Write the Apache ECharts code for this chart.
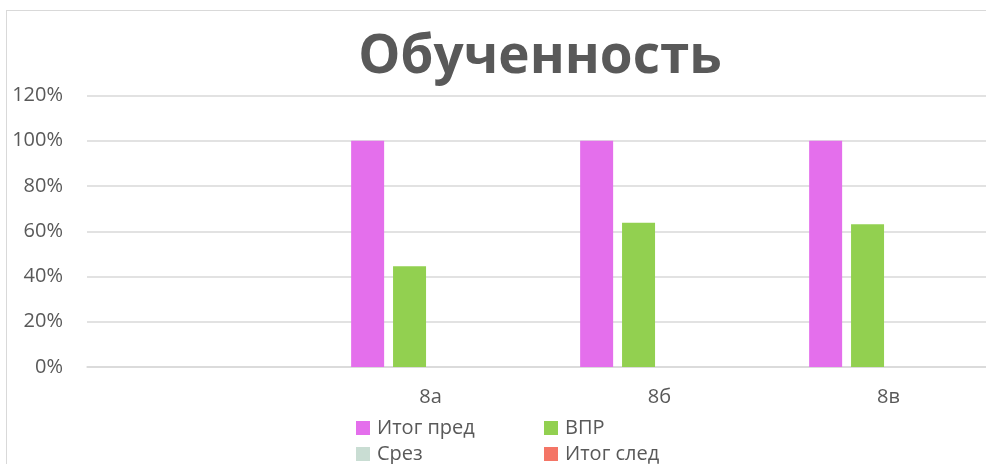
<!DOCTYPE html>
<html>
<head>
<meta charset="utf-8">
<script src="https://cdn.jsdelivr.net/npm/echarts@6/dist/echarts.min.js"></script>
<style>
  html, body { margin: 0; padding: 0; background: #fff; overflow: hidden; }
  #frame { position: absolute; left: 6px; top: 10px; width: 1200px; height: 800px;
           border-left: 1.5px solid #d9d9d9; border-top: 1.5px solid #d9d9d9; }
  #chart { position: absolute; left: 0; top: 0; width: 986px; height: 464px; }
</style>
</head>
<body>
<div id="frame"></div>
<div id="chart"></div>
<script>
// Data
const categories = ['', '8а', '8б', '8в'];
const itogPred = [null, 1.00, 1.00, 1.00];
const vpr = [null, 0.445, 0.638, 0.631];
const srez = [null, null, null, null];
const itogSled = [null, null, null, null];
const seriesNames = ['Итог пред', 'ВПР', 'Срез', 'Итог след'];
const seriesColors = ['#e46fec', '#92d050', '#c9ddd3', '#f47566'];

const FONT = '"Open Sans", sans-serif';
const TEXT = '#595959';
const LINE = '#d9d9d9';

// Legend, one item each so columns line up
function legendItem(name, left, top) {
    return {
        data: [name],
        left: left,
        top: top,
        padding: 0,
        itemWidth: 14,
        itemHeight: 14,
        icon: 'rect',
        selectedMode: false,
        textStyle: { fontFamily: FONT, fontSize: 20, color: TEXT, padding: [0, 0, 0, 2] }
    };
}

const chart = echarts.init(document.getElementById('chart'));
const values = [itogPred, vpr, srez, itogSled];

chart.setOption({
    animation: false,
    backgroundColor: 'transparent',
    color: seriesColors,
    title: {
        text: 'Обученность',
        left: 535,
        top: 26,
        textAlign: 'center',
        textStyle: { fontFamily: FONT, fontSize: 53, fontWeight: 'bold', color: TEXT }
    },
    legend: [
        legendItem(seriesNames[0], 356, 418),
        legendItem(seriesNames[1], 544, 418),
        legendItem(seriesNames[2], 356, 444),
        legendItem(seriesNames[3], 544, 444)
    ],
    // plot runs past the right edge of the picture, as in the cropped original
    grid: { left: 87, width: 916, top: 95.5, bottom: 97, outerBoundsMode: 'none', containLabel: false },
    xAxis: {
        type: 'category',
        data: categories,
        axisLine: { lineStyle: { color: LINE, width: 1.5 } },
        axisTick: { show: false },
        axisLabel: { fontFamily: FONT, fontSize: 20, color: TEXT, margin: 20 }
    },
    yAxis: {
        type: 'value',
        min: 0,
        max: 1.2,
        interval: 0.2,
        axisLine: { show: false },
        axisTick: { show: false },
        splitLine: { lineStyle: { color: LINE, width: 1.5 } },
        axisLabel: {
            fontFamily: FONT, fontSize: 20, color: TEXT, margin: 24,
            formatter: v => Math.round(v * 100) + '%'
        }
    },
    series: seriesNames.map((name, i) => ({
        name: name,
        type: 'bar',
        data: values[i],
        barWidth: 33,
        barGap: '27%',
        itemStyle: { color: seriesColors[i] }
    }))
});
</script>
</body>
</html>
